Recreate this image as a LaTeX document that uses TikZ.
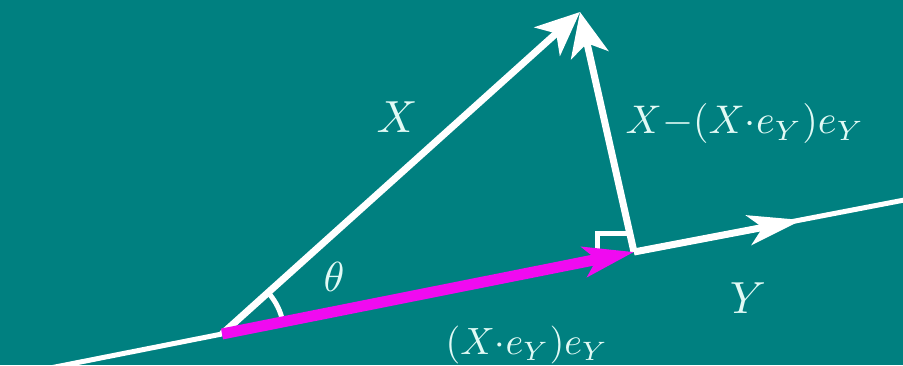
\documentclass[tikz,border=0pt]{standalone}
\usetikzlibrary{arrows.meta}
\definecolor{bgteal}{RGB}{0,128,128}
\definecolor{vecpink}{RGB}{240,10,240}
\definecolor{txtwhite}{RGB}{225,250,245}
\tikzset{
  whitevec/.style={draw=white,line width=7pt},
  bigtip/.style={-{Stealth[length=44pt,width=38pt,inset=12pt]}},
  ytip/.style={-{Stealth[length=54pt,width=30pt,inset=14pt]}},
  pinktip/.style={-{Stealth[length=50pt,width=30pt,inset=12pt]}},
  lbl/.style={text=txtwhite,inner sep=0pt},
}
\begin{document}
\begin{tikzpicture}[x=1pt,y=1pt]
\fill[bgteal] (0,0) rectangle (903,365);
\useasboundingbox (0,0) rectangle (903,365);
\clip (0,0) rectangle (903,365);
\coordinate (L1) at (40,-5);
\coordinate (O) at (222,31);
\coordinate (P) at (634,113);
\coordinate (T) at (580,353);
\coordinate (Yt) at (802,145);
\coordinate (L2) at (920,168);
\coordinate (Ra) at (597,115);
\coordinate (Rb) at (597,132);
\coordinate (Rc) at (627,132);
% base line
\draw[white,line width=5pt] (L1) -- (O);
\draw[white,line width=5pt] (P) -- (L2);
% Y arrow
\draw[whitevec,ytip] (P) -- (Yt);
% right angle marker
\draw[white,line width=5pt] (Ra) -- (Rb) -- (Rc);
% angle arc
\draw[white,line width=5pt] (O) ++(12:62) arc[start angle=12,end angle=40,radius=62];
% X vector
\draw[whitevec,bigtip] (O) -- (T);
% perpendicular vector
\draw[whitevec,bigtip] (P) -- (T);
% projection
\draw[draw=vecpink,line width=11pt,pinktip] (O) -- (P);
% labels
\node[lbl,scale=4.5] (lx) at (397,248) {$X$};
\node[lbl,scale=4.2] (lth) at (334,88) {$\theta$};
\node[lbl,scale=4.0] (lperp) at (745,241) {$X{-}(X{\cdot}e_Y)e_Y$};
\node[lbl,scale=4.5] (ly) at (748,67) {$Y$};
\node[lbl,scale=3.8] (lproj) at (527,20) {$(X{\cdot}e_Y)e_Y$};
\end{tikzpicture}
\end{document}
